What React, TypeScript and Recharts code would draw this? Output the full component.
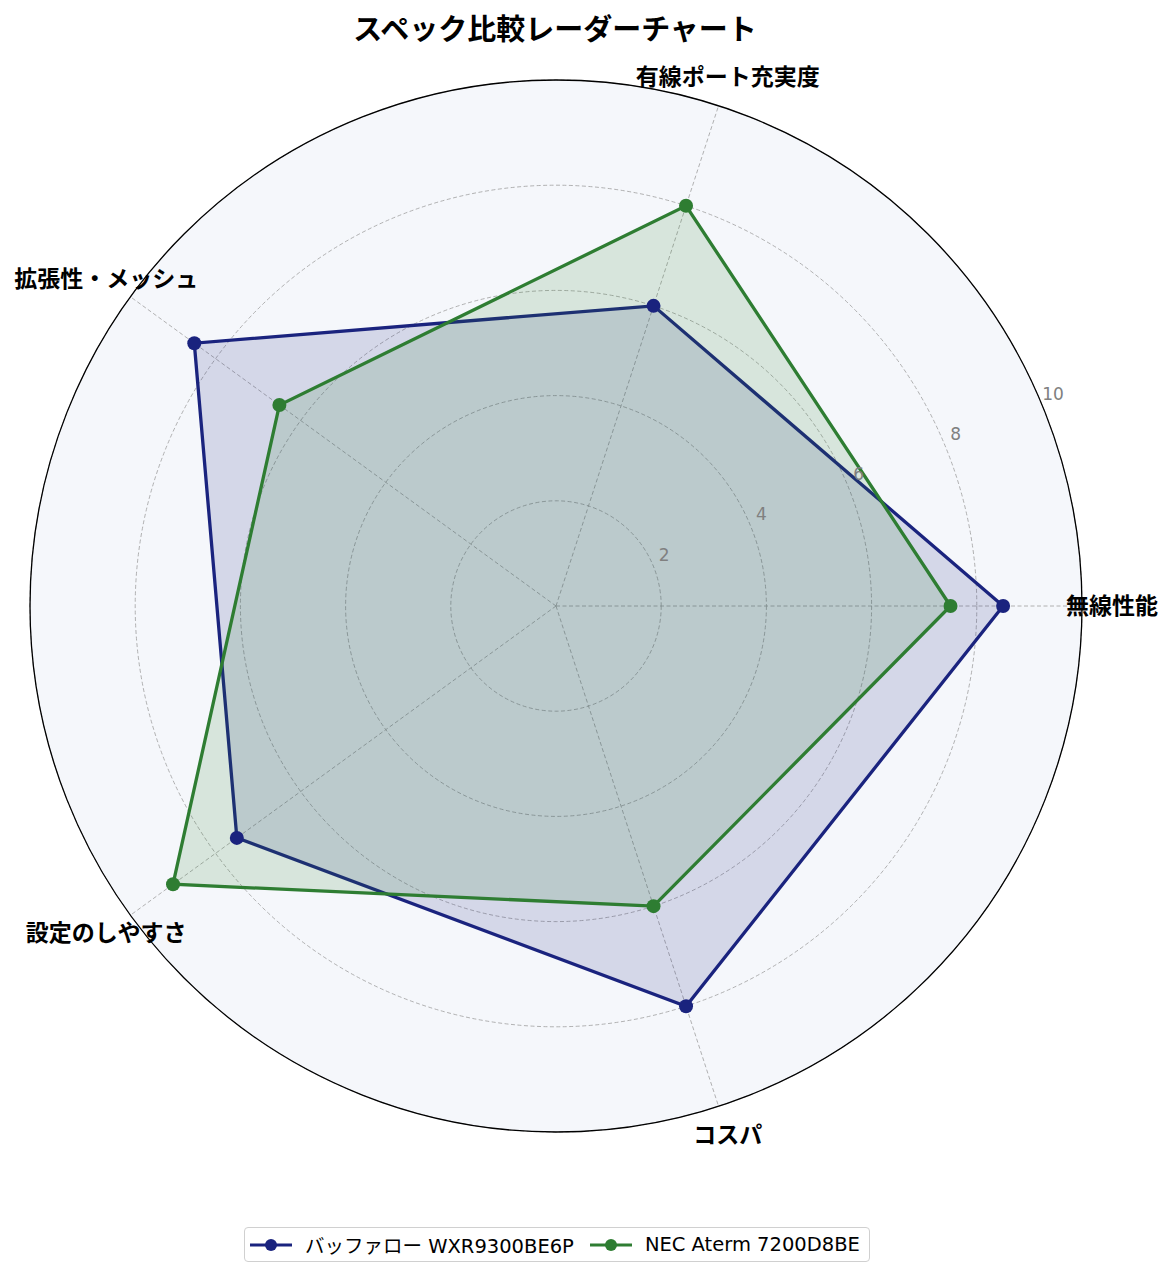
import {
  RadarChart,
  Radar,
  PolarGrid,
  PolarAngleAxis,
  PolarRadiusAxis,
  Legend,
} from 'recharts'

const categories = ['無線性能', '有線ポート充実度', '拡張性・メッシュ', '設定のしやすさ', 'コスパ']
const buffaloValues = [8.5, 6, 8.5, 7.5, 8]
const necValues = [7.5, 8, 6.5, 9, 6]
const seriesNames = ['バッファロー WXR9300BE6P', 'NEC Aterm 7200D8BE']
const seriesColors = ['#1a237e', '#2e7d32']

const CX = 556
const CY = 606
const OUTER = 526
const LABEL_R = 556
const RAD = Math.PI / 180
const FONT = '"Noto Sans CJK JP", "Noto Sans", sans-serif'
const LATIN_FONT = '"DejaVu Sans", "Noto Sans CJK JP", sans-serif'

const data = categories.map((c, i) => ({
  category: c,
  buffalo: buffaloValues[i],
  nec: necValues[i],
}))

// 軸ラベル: 品目の順番から角度を求め、外周の外側に置く
function AngleTick(props: any) {
  const { payload } = props
  const idx = categories.indexOf(payload.value)
  const angle = (360 * idx) / categories.length
  return (
    <text
      x={CX + LABEL_R * Math.cos(-angle * RAD)}
      y={CY + LABEL_R * Math.sin(-angle * RAD) - 2}
      textAnchor="middle"
      dominantBaseline="central"
      fontSize={23}
      fontWeight="bold"
      fill="#000"
      fontFamily={FONT}
    >
      {payload.value}
    </text>
  )
}

function RadiusTick(props: any) {
  const { x, y, payload } = props
  if (payload.value === 0) return null
  return (
    <text x={x + 11} y={y - 11} textAnchor="middle" dominantBaseline="central" fontSize={17} fill="#808080" fontFamily={LATIN_FONT}>
      {payload.value}
    </text>
  )
}

function LegendBox() {
  return (
    <div
      style={{
        display: 'flex',
        alignItems: 'center',
        border: '1.5px solid #d0d0d0',
        borderRadius: 4,
        background: '#fff',
        padding: '0 9px 0 5px',
        height: 33,
        fontFamily: LATIN_FONT,
        fontSize: 19.5,
        color: '#000',
        whiteSpace: 'nowrap',
      }}
    >
      {seriesNames.map((name, i) => (
        <div key={name} style={{ display: 'flex', alignItems: 'center', marginLeft: i === 0 ? 0 : 16 }}>
          <svg width={42} height={14} style={{ marginRight: 13 }}>
            <line x1={0} y1={7} x2={42} y2={7} stroke={seriesColors[i]} strokeWidth={3} />
            <circle cx={21} cy={7} r={6} fill={seriesColors[i]} />
          </svg>
          <span>{name}</span>
        </div>
      ))}
    </div>
  )
}

export default function App() {
  return (
    <div style={{ position: 'absolute', left: 0, top: 0, width: 1173, height: 1276, background: '#fff' }}>
      {/* 極座標エリアの背景 */}
      <div
        style={{
          position: 'absolute',
          left: CX - OUTER,
          top: CY - OUTER,
          width: OUTER * 2,
          height: OUTER * 2,
          borderRadius: '50%',
          background: '#f5f7fb',
        }}
      />
      <div
        style={{
          position: 'absolute',
          left: 0,
          top: 8,
          width: 1110,
          textAlign: 'center',
          fontFamily: FONT,
          fontSize: 29,
          fontWeight: 'bold',
          lineHeight: '38px',
          color: '#000',
        }}
      >
        スペック比較レーダーチャート
      </div>
      <div style={{ position: 'absolute', left: 0, top: 0 }}>
        <RadarChart
          width={1173}
          height={1276}
          data={data}
          cx={CX}
          cy={CY}
          outerRadius={OUTER}
          startAngle={-72}
          endAngle={288}
          margin={{ top: 0, right: 0, bottom: 0, left: 0 }}
        >
          <PolarGrid gridType="circle" stroke="#9e9e9e" strokeDasharray="4 2.5" strokeWidth={0.8} />
          <PolarRadiusAxis
            angle={22.5}
            domain={[0, 10]}
            tickCount={6}
            axisLine={false}
            tickLine={false}
            tick={RadiusTick}
          />
          <PolarAngleAxis
            dataKey="category"
            tick={AngleTick}
            tickLine={false}
            axisLineType="circle"
            axisLine={{ stroke: '#000', strokeWidth: 1.3 }}
          />
          <Radar
            name={seriesNames[0]}
            dataKey="buffalo"
            stroke={seriesColors[0]}
            strokeWidth={3.3}
            fill={seriesColors[0]}
            fillOpacity={0.15}
            dot={{ r: 7, fill: seriesColors[0], fillOpacity: 1, strokeWidth: 0 }}
            isAnimationActive={false}
          />
          <Radar
            name={seriesNames[1]}
            dataKey="nec"
            stroke={seriesColors[1]}
            strokeWidth={3.3}
            fill={seriesColors[1]}
            fillOpacity={0.15}
            dot={{ r: 7, fill: seriesColors[1], fillOpacity: 1, strokeWidth: 0 }}
            isAnimationActive={false}
          />
          <Legend content={LegendBox} wrapperStyle={{ left: 244, top: 1227, width: 'auto' }} />
        </RadarChart>
      </div>
    </div>
  )
}
